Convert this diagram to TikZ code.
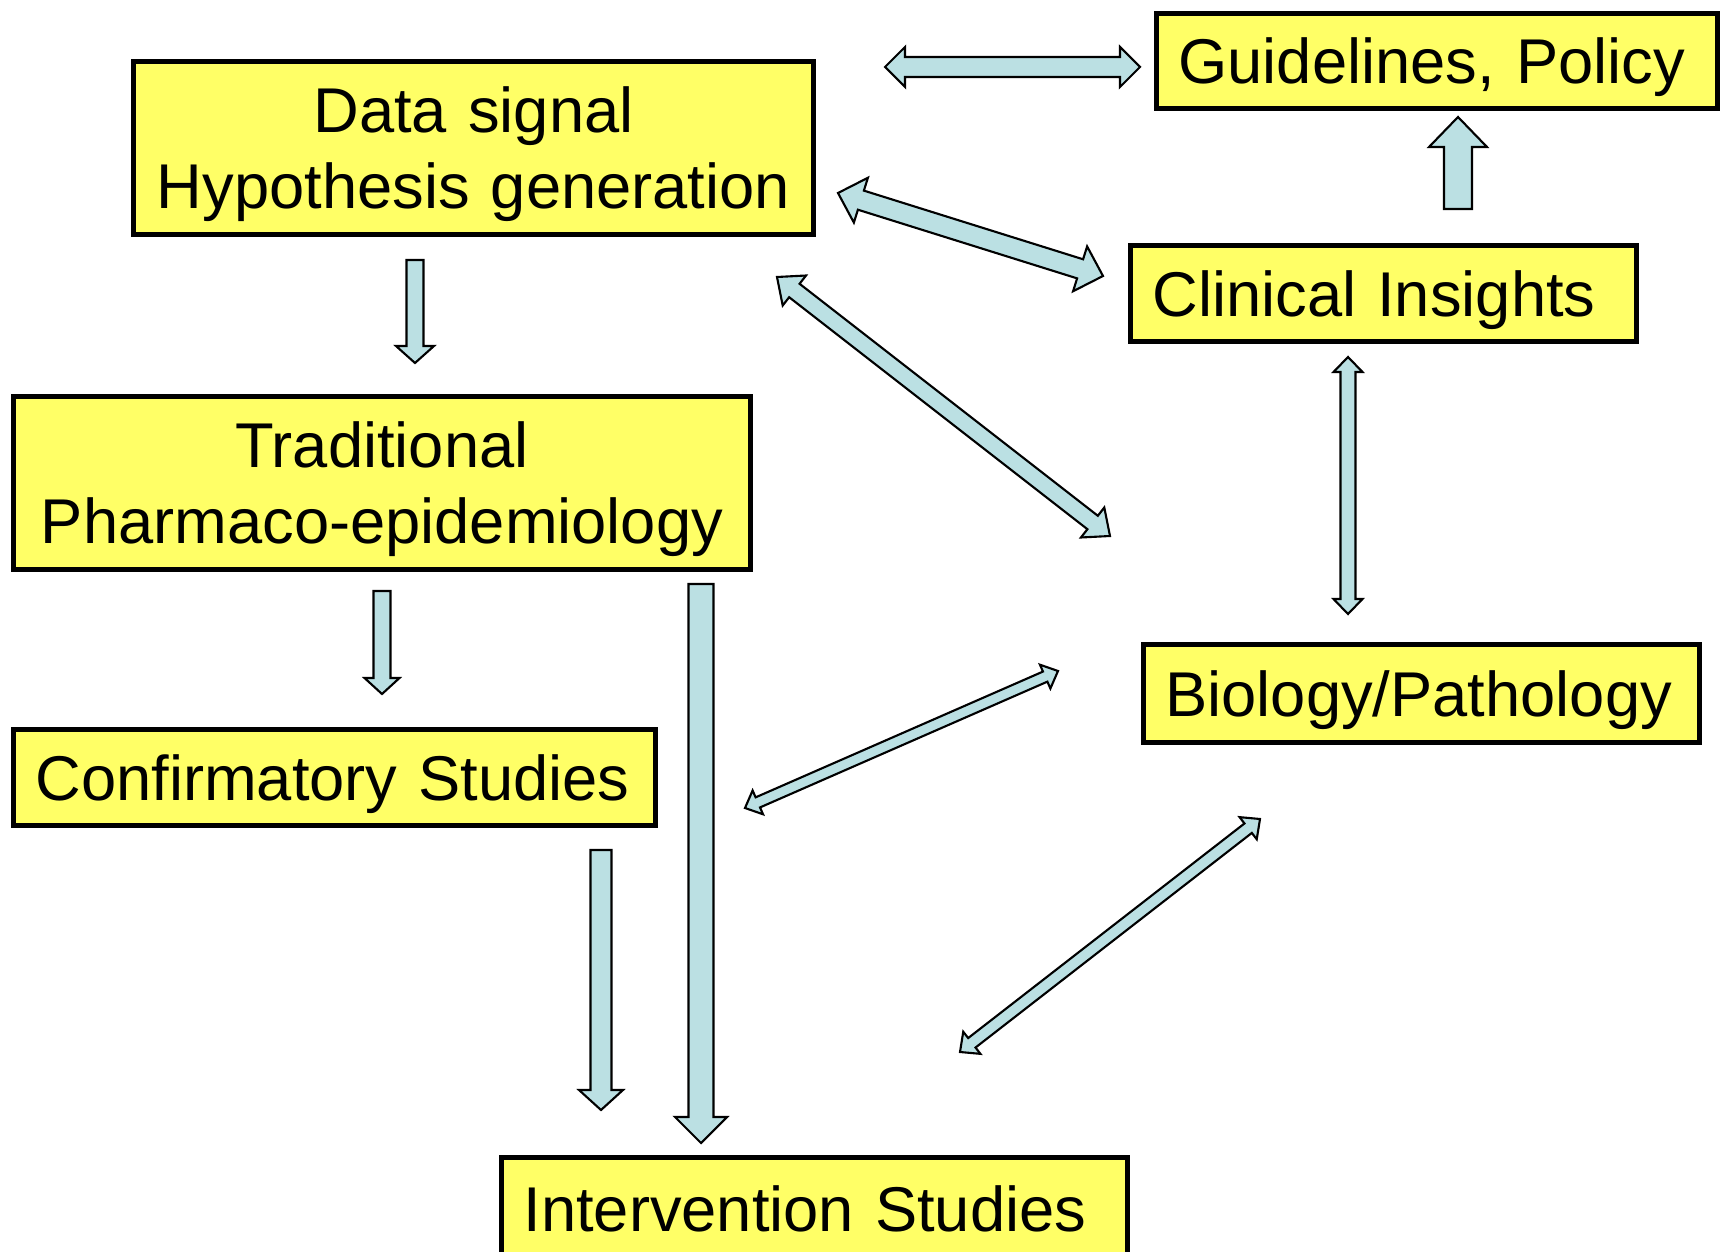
\documentclass[tikz,border=0pt]{standalone}
\usepackage{fontspec}
\setmainfont{Liberation Sans}
\usetikzlibrary{calc}
\definecolor{boxyellow}{RGB}{255,255,102}
\definecolor{arrowblue}{RGB}{187,224,227}
\tikzset{
	box/.style={draw=black,line width=1.55pt,fill=boxyellow,inner xsep=2.2mm,inner ysep=0pt,
		font=\fontsize{18}{21.6}\selectfont,text height=12.9pt,text depth=0pt,align=left},
	twolines/.style={inner xsep=1mm,align=center,text depth=21.6pt},
	arrowbody/.style={draw=black,line width=0.6pt,fill=arrowblue,line join=miter}
}
% single block arrow: from, to, half shaft, half head, head length
\newcommand{\blockarrow}[5]{%
	\path ($(#2)!#5!(#1)$) coordinate (hb);
	\draw[arrowbody] ($(#1)!#3!90:(#2)$) -- ($(hb)!#3!90:(#2)$) -- ($(hb)!#4!90:(#2)$) -- (#2)
	-- ($(hb)!#4!-90:(#2)$) -- ($(hb)!#3!-90:(#2)$) -- ($(#1)!#3!-90:(#2)$) -- cycle;
}
% double block arrow
\newcommand{\dblarrow}[5]{%
	\path ($(#1)!#5!(#2)$) coordinate (ha) ($(#2)!#5!(#1)$) coordinate (hb);
	\draw[arrowbody] (#1) -- ($(ha)!#4!90:(#2)$) -- ($(ha)!#3!90:(#2)$) -- ($(hb)!#3!90:(#2)$)
	-- ($(hb)!#4!90:(#2)$) -- (#2) -- ($(hb)!#4!-90:(#2)$) -- ($(hb)!#3!-90:(#2)$)
	-- ($(ha)!#3!-90:(#2)$) -- ($(ha)!#4!-90:(#2)$) -- cycle;
}
\begin{document}
\begin{tikzpicture}[x=0.1mm,y=-0.1mm]
	\useasboundingbox (0,0) rectangle (1721,1252);
	\clip (0,0) rectangle (1721,1252);
	
	\node[box,twolines,text width=66mm,minimum height=17.3mm] (signal) at (473.5,148) {Data signal\\Hypothesis generation};
	\node[box,twolines,text width=71.7mm,minimum height=17.3mm] (trad) at (382,483) {Traditional\\Pharmaco-epidemiology};
	\node[box,text width=51.7mm,minimum height=9.5mm] (policy) at (1437,61) {Guidelines, Policy};
	\node[box,text width=46.2mm,minimum height=9.6mm] (clinic) at (1383.5,293.5) {Clinical Insights};
	\node[box,text width=59.8mm,minimum height=9.6mm] (confirm) at (334.5,777.5) {Confirmatory Studies};
	\node[box,text width=51.2mm,minimum height=9.8mm] (biology) at (1421.5,693.5) {Biology/Pathology};
	\node[box,text width=58.2mm,minimum height=10.3mm] (interv) at (814.5,1209) {Intervention Studies};
	
	\path 
	(1458,209) coordinate (ci1) (1458,117) coordinate (gp1)
	(415,260) coordinate (ds1) (415,363) coordinate (tr1)
	(382,591) coordinate (tr2) (382,694) coordinate (cs1)
	(601,850) coordinate (cs2) (601,1110) coordinate (is1)
	(701,584) coordinate (tr3) (701,1143) coordinate (is2)
	(885,67) coordinate (ds2) (1140,67) coordinate (gp2)
	(838,193) coordinate (ds3) (1103,276) coordinate (ci2)
	(777,277) coordinate (ds4) (1110,536) coordinate (bp1)
	(1348,357) coordinate (ci3) (1348,614) coordinate (bp2)
	(745,808) coordinate (cs3) (1058,671) coordinate (bp3)
	(960,1052) coordinate (is3) (1260,819) coordinate (bp4);
	
	\foreach \a/\b/\s/\h/\l in {ci1/gp1/1.4mm/2.9mm/3mm, ds1/tr1/.85mm/1.9mm/1.7mm,
		tr2/cs1/.85mm/1.75mm/1.6mm, cs2/is1/1.05mm/2.2mm/2mm, tr3/is2/1.25mm/2.6mm/2.6mm}{
		\blockarrow{\a}{\b}{\s}{\h}{\l}
	}
	\foreach \a/\b/\s/\h/\l in {ds2/gp2/1mm/2mm/2mm, ds3/ci2/1mm/2.35mm/2.4mm,
		ds4/bp1/.85mm/1.9mm/2.2mm, ci3/bp2/.75mm/1.45mm/1.5mm,
		cs3/bp3/.55mm/1.3mm/1.4mm, is3/bp4/.6mm/1.4mm/1.5mm}{
		\dblarrow{\a}{\b}{\s}{\h}{\l}
	}
\end{tikzpicture}
\end{document}
